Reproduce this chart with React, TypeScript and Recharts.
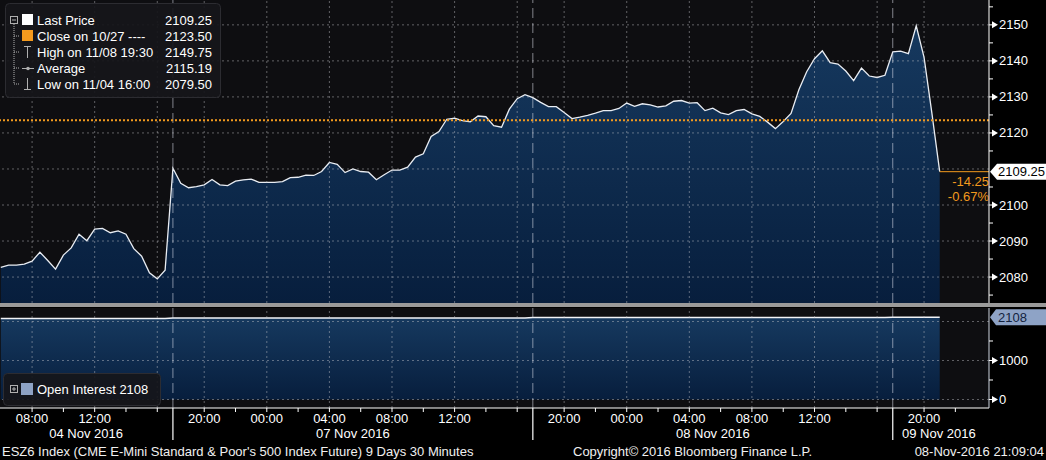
import { AreaChart, Area, XAxis, YAxis, CartesianGrid, ReferenceLine } from 'recharts'

// 30 minute closes, bar 0 = 04 Nov 06:00, sessions start at bars 22, 68, 114
const price = [
  2082.7, 2083.3, 2083.3, 2083.6, 2084.4, 2086.9, 2084.6, 2082.2, 2086.1, 2088.1, 2091.9,
  2090.1, 2093.3, 2093.5, 2092.3, 2092.8, 2091.9, 2087.9, 2085.8, 2081.2, 2079.5, 2081.9,
  2110.2, 2106.0, 2104.8, 2105.1, 2105.6, 2107.1, 2105.6, 2105.4, 2106.6, 2107.0, 2107.2,
  2106.3, 2106.3, 2106.3, 2106.5, 2107.6, 2107.7, 2108.3, 2108.2, 2109.3, 2111.8, 2111.3,
  2109.0, 2110.0, 2109.3, 2109.1, 2107.0, 2108.4, 2109.7, 2109.7, 2110.5, 2113.3, 2114.2,
  2119.0, 2120.4, 2123.8, 2124.1, 2123.4, 2123.1, 2124.7, 2124.5, 2122.0, 2121.6, 2126.6,
  2129.5, 2130.6,
  2129.8, 2128.5, 2127.3, 2127.3, 2125.7, 2124.0, 2124.4, 2124.9, 2125.5, 2126.2, 2126.2,
  2126.8, 2128.3, 2127.4, 2128.1, 2127.8, 2127.2, 2127.5, 2128.8, 2129.0, 2128.3, 2128.4,
  2126.2, 2126.9, 2125.6, 2125.1, 2126.2, 2126.5, 2125.3, 2124.6, 2123.0, 2121.2, 2123.2,
  2125.4, 2132.0, 2137.0, 2140.6, 2142.8, 2139.5, 2139.1, 2137.2, 2134.5, 2138.0, 2135.8,
  2135.4, 2136.0,
  2142.5, 2142.7, 2142.0, 2149.75, 2141.0, 2125.5, 2109.25,
]

const openInterest = [
  2075, 2075, 2075, 2075, 2075, 2075, 2075, 2075, 2075, 2075, 2075,
  2075, 2075, 2075, 2075, 2075, 2075, 2075, 2075, 2075, 2075, 2075,
  2090, 2090, 2090, 2090, 2090, 2090, 2090, 2090, 2090, 2090, 2090,
  2090, 2090, 2090, 2090, 2090, 2090, 2090, 2090, 2090, 2090, 2090,
  2090, 2090, 2090, 2090, 2090, 2090, 2090, 2090, 2090, 2090, 2090,
  2090, 2090, 2090, 2090, 2090, 2090, 2090, 2090, 2090, 2090, 2090,
  2090, 2090,
  2100, 2100, 2100, 2100, 2100, 2100, 2100, 2100, 2100, 2100, 2100,
  2100, 2100, 2100, 2100, 2100, 2100, 2100, 2100, 2100, 2100, 2100,
  2100, 2100, 2100, 2100, 2100, 2100, 2100, 2100, 2100, 2100, 2100,
  2100, 2100, 2100, 2100, 2100, 2100, 2100, 2100, 2100, 2100, 2100,
  2100, 2100,
  2108, 2108, 2108, 2108, 2108, 2108, 2108,
]

const sessionStarts = [22, 68, 114]
const timeTickBars = [4, 12, 26, 34, 42, 50, 58, 72, 80, 88, 96, 104, 118]
const timeTickLabels = ['08:00', '12:00', '20:00', '00:00', '04:00', '08:00', '12:00', '20:00', '00:00', '04:00', '08:00', '12:00', '20:00']
const minorTickBars = [8, 16, 20, 30, 38, 46, 54, 62, 66, 76, 84, 92, 100, 108, 112, 122]
const gridBars = [4, 12, 20, 26, 34, 42, 50, 58, 66, 72, 80, 88, 96, 104, 112, 118]
const dateTickBars = [10.9, 45, 91, 119.9]
const dateLabels = ['04 Nov 2016', '07 Nov 2016', '08 Nov 2016', '09 Nov 2016']

const priceTicks = [2075, 2080, 2085, 2090, 2095, 2100, 2105, 2115, 2120, 2125, 2130, 2135, 2140, 2145, 2150, 2155]
const priceGrid = [2080, 2090, 2100, 2110, 2120, 2130, 2140, 2150]
const oiTicks = [0, 500, 1000, 1500]
const oiGrid = [0, 1000, 2000]

const lastPrice = 2109.25
const closePrice = 2123.5
const lastOI = 2108
const lastChange = '-14.25'
const lastChangePct = '-0.67%'

const xDomain = [-0.1, 126.3]
const priceDomain = [2072.8, 2156.9]
const oiDomain = [-218, 2346]

const ORANGE = '#f39a1e'
const FONT = '"Liberation Sans", Arial, sans-serif'
const GRID = 'rgba(200,200,205,0.45)'
const SEP = 'rgba(225,230,240,0.55)'

const rows = price.map((p, i) => ({ i, price: p, oi: openInterest[i] }))
const allTimeTicks = [...timeTickBars, ...minorTickBars, ...sessionStarts].sort((a, b) => a - b)

function Arrow({ x, y }: { x: number; y: number }) {
  return (
    <g>
      <line x1={x} x2={x + 4} y1={y} y2={y} stroke="#fff" strokeWidth={1} />
      <polygon points={`${x + 3},${y - 3.5} ${x + 9},${y} ${x + 3},${y + 3.5}`} fill="#fff" />
    </g>
  )
}

function PriceTick(props: any) {
  const { x, y, payload } = props
  const v = payload.value
  if (v === lastPrice) {
    return (
      <g>
        <polygon points={`${x + 1},${y} ${x + 8},${y - 8} ${x + 57},${y - 8} ${x + 57},${y + 8} ${x + 8},${y + 8}`} fill="#fff" />
        <text x={x + 9} y={y + 4.5} fill="#000" fontSize={13} fontFamily={FONT}>{v.toFixed(2)}</text>
        <text x={x} y={y + 14} fill={ORANGE} fontSize={13} fontFamily={FONT} textAnchor="end">{lastChange}</text>
        <text x={x} y={y + 29} fill={ORANGE} fontSize={13} fontFamily={FONT} textAnchor="end">{lastChangePct}</text>
      </g>
    )
  }
  if (v % 10 === 0) {
    return (
      <g>
        <Arrow x={x} y={y} />
        <text x={x + 10} y={y + 4.5} fill="#fff" fontSize={13} fontFamily={FONT}>{v}</text>
      </g>
    )
  }
  return <line x1={x} x2={x + 4} y1={y} y2={y} stroke="#fff" />
}

function OiTick(props: any) {
  const { x, y, payload } = props
  const v = payload.value
  if (v === lastOI) {
    return (
      <g>
        <polygon points={`${x + 1},${y} ${x + 7},${y - 8} ${x + 57},${y - 8} ${x + 57},${y + 8} ${x + 7},${y + 8}`} fill="#8ea3c6" />
        <text x={x + 9} y={y + 4.5} fill="#14233f" fontSize={13} fontFamily={FONT}>{v}</text>
      </g>
    )
  }
  if (v % 1000 === 0) {
    return (
      <g>
        <Arrow x={x} y={y} />
        <text x={x + 10} y={y + 4.5} fill="#fff" fontSize={13} fontFamily={FONT}>{v}</text>
      </g>
    )
  }
  return <line x1={x} x2={x + 4} y1={y} y2={y} stroke="#fff" />
}

function TimeTick(props: any) {
  const { x, y, payload } = props
  const v = payload.value
  if (sessionStarts.includes(v)) {
    return <line x1={x} x2={x} y1={y} y2={y + 34} stroke="#fff" strokeWidth={1.2} />
  }
  const k = timeTickBars.indexOf(v)
  return (
    <g>
      <line x1={x} x2={x} y1={y} y2={y + 4} stroke="#fff" />
      {k >= 0 && (
        <text x={x} y={y + 15} fill="#fff" fontSize={13} fontFamily={FONT} textAnchor="middle">{timeTickLabels[k]}</text>
      )}
    </g>
  )
}

function DateTick(props: any) {
  const { x, y, payload } = props
  const k = dateTickBars.indexOf(payload.value)
  return (
    <text x={x} y={y + 13.5} fill="#fff" fontSize={13} fontFamily={FONT} textAnchor="middle">{dateLabels[k]}</text>
  )
}

function gridLines(xId?: string) {
  return gridBars.map((b) => (
    <ReferenceLine key={`g${b}`} x={b} xAxisId={xId} stroke={GRID} strokeDasharray="2 3" />
  ))
}

function sepLines(xId?: string) {
  return sessionStarts.map((b) => (
    <ReferenceLine key={`s${b}`} x={b} xAxisId={xId} stroke={SEP} strokeDasharray="10 5" />
  ))
}

function Legends() {
  const rowsL = [
    { y: 20, label: 'Last Price', value: '2109.25' },
    { y: 36, label: 'Close on 10/27 ----', value: '2123.50' },
    { y: 52, label: 'High on 11/08 19:30', value: '2149.75' },
    { y: 68, label: 'Average', value: '2115.19' },
    { y: 84, label: 'Low on 11/04 16:00', value: '2079.50' },
  ]
  const icon = '#b0b0b0'
  return (
    <svg width={1046} height={460} style={{ position: 'absolute', left: 0, top: 0, pointerEvents: 'none' }}>
      <rect x={5.5} y={3.5} width={215} height={94} rx={4} fill="rgba(22,22,26,0.92)" stroke="#2c2c31" />
      <rect x={10.5} y={16.5} width={7} height={7} fill="none" stroke={icon} />
      <line x1={12} x2={16} y1={20} y2={20} stroke={icon} />
      <line x1={14} x2={14} y1={24} y2={84} stroke={icon} strokeDasharray="1 1" />
      {rowsL.slice(1).map((r) => (
        <line key={r.y} x1={14} x2={20} y1={r.y} y2={r.y} stroke={icon} strokeDasharray="1 1" />
      ))}
      <rect x={22} y={14} width={11} height={11} fill="#fff" />
      <rect x={22} y={30} width={11} height={11} fill={ORANGE} />
      <line x1={24} x2={31} y1={46.5} y2={46.5} stroke={icon} />
      <line x1={27.5} x2={27.5} y1={46.5} y2={58} stroke={icon} />
      <line x1={22} x2={34} y1={68.5} y2={68.5} stroke={icon} />
      <circle cx={28} cy={68.5} r={1.8} fill={icon} />
      <line x1={27.5} x2={27.5} y1={78} y2={89.5} stroke={icon} />
      <line x1={24} x2={31} y1={89.5} y2={89.5} stroke={icon} />
      {rowsL.map((r) => (
        <g key={r.label} fontFamily={FONT} fontSize={13} fill="#fff">
          <text x={37} y={r.y + 4.5}>{r.label}</text>
          <text x={212} y={r.y + 4.5} textAnchor="end">{r.value}</text>
        </g>
      ))}

      <rect x={3.5} y={373.5} width={157} height={32} rx={4} fill="rgba(22,22,26,0.92)" stroke="#2c2c31" />
      <rect x={10.5} y={385.5} width={7} height={7} fill="none" stroke={icon} />
      <line x1={12} x2={16} y1={389} y2={389} stroke={icon} />
      <line x1={14} x2={14} y1={387} y2={391} stroke={icon} />
      <rect x={21} y={383} width={12} height={12} fill="#8ea3c6" />
      <text x={37} y={394} fontFamily={FONT} fontSize={13} fill="#fff">Open Interest {lastOI}</text>
    </svg>
  )
}

export default function App() {
  return (
    <div style={{ position: 'absolute', left: 0, top: 0, width: 1046, height: 460, background: '#000', overflow: 'hidden', fontFamily: FONT }}>
      <div style={{ position: 'absolute', left: 0, top: 0 }}>
        <AreaChart width={1046} height={303} data={rows} margin={{ top: 0, right: 0, bottom: 0, left: 0 }}>
          <defs>
            <linearGradient id="priceFill" x1="0" y1="0" x2="0" y2="1">
              <stop offset="0%" stopColor="#16395f" />
              <stop offset="100%" stopColor="#071e3d" />
            </linearGradient>
          </defs>
          <CartesianGrid fill="#0e0e11" stroke="none" horizontal={false} vertical={false} />
          <XAxis dataKey="i" type="number" domain={xDomain} hide allowDataOverflow />
          <YAxis
            orientation="right"
            width={57}
            domain={priceDomain}
            ticks={[...priceTicks, lastPrice]}
            interval={0}
            tick={(p: any) => <PriceTick {...p} />}
            tickLine={false}
            tickSize={0}
            tickMargin={0}
            axisLine={{ stroke: '#fff' }}
            allowDataOverflow
          />
          <Area
            type="linear"
            dataKey="price"
            stroke="#e9edf3"
            strokeWidth={1.3}
            fill="url(#priceFill)"
            fillOpacity={1}
            dot={false}
            activeDot={false}
            isAnimationActive={false}
          />
          {priceGrid.map((v) => (
            <ReferenceLine key={`h${v}`} y={v} stroke={GRID} strokeDasharray="2 3" />
          ))}
          {gridLines()}
          {sepLines()}
          <ReferenceLine y={closePrice} stroke={ORANGE} strokeWidth={2} strokeDasharray="2 2" />
          <ReferenceLine segment={[{ x: 120, y: lastPrice }, { x: xDomain[1], y: lastPrice }]} stroke={ORANGE} />
        </AreaChart>
      </div>

      <div style={{ position: 'absolute', left: 0, top: 303, width: 1046, height: 4, background: '#9a9a9a' }} />

      <div style={{ position: 'absolute', left: 0, top: 308 }}>
        <AreaChart width={1046} height={132} data={rows} margin={{ top: 0, right: 0, bottom: 0, left: 0 }}>
          <defs>
            <linearGradient id="oiFill" x1="0" y1="0" x2="0" y2="1">
              <stop offset="0%" stopColor="#16395f" />
              <stop offset="100%" stopColor="#071e3d" />
            </linearGradient>
          </defs>
          <CartesianGrid xAxisId="a" fill="#0e0e11" stroke="none" horizontal={false} vertical={false} />
          <XAxis
            xAxisId="a"
            dataKey="i"
            type="number"
            domain={xDomain}
            ticks={allTimeTicks}
            interval={0}
            tick={(p: any) => <TimeTick {...p} />}
            tickLine={false}
            tickSize={0}
            tickMargin={0}
            axisLine={{ stroke: '#fff' }}
            height={16}
            allowDataOverflow
          />
          <XAxis
            xAxisId="b"
            dataKey="i"
            type="number"
            domain={xDomain}
            ticks={dateTickBars}
            interval={0}
            tick={(p: any) => <DateTick {...p} />}
            tickLine={false}
            tickSize={0}
            tickMargin={0}
            axisLine={false}
            height={16}
            allowDataOverflow
          />
          <YAxis
            orientation="right"
            width={57}
            domain={oiDomain}
            ticks={[...oiTicks, lastOI]}
            interval={0}
            tick={(p: any) => <OiTick {...p} />}
            tickLine={false}
            tickSize={0}
            tickMargin={0}
            axisLine={{ stroke: '#cfd6e2' }}
            allowDataOverflow
          />
          <Area
            xAxisId="a"
            type="linear"
            dataKey="oi"
            stroke="#f2f4f8"
            strokeWidth={1.5}
            fill="url(#oiFill)"
            fillOpacity={1}
            dot={false}
            activeDot={false}
            isAnimationActive={false}
          />
          {oiGrid.map((v) => (
            <ReferenceLine key={`h${v}`} y={v} xAxisId="a" stroke={GRID} strokeDasharray="2 3" />
          ))}
          {gridLines('a')}
          {sepLines('a')}
        </AreaChart>
      </div>

      <Legends />

      <div style={{ position: 'absolute', left: 0, top: 444, width: 1046, height: 16, lineHeight: '16px', fontSize: 13, color: '#f0f0f0', whiteSpace: 'nowrap' }}>
        <span style={{ position: 'absolute', left: 2 }}>ESZ6 Index (CME E-Mini Standard &amp; Poor's 500 Index Future) 9 Days 30 Minutes</span>
        <span style={{ position: 'absolute', left: 573 }}>Copyright© 2016 Bloomberg Finance L.P.</span>
        <span style={{ position: 'absolute', right: 2 }}>08-Nov-2016 21:09:04</span>
      </div>
    </div>
  )
}
